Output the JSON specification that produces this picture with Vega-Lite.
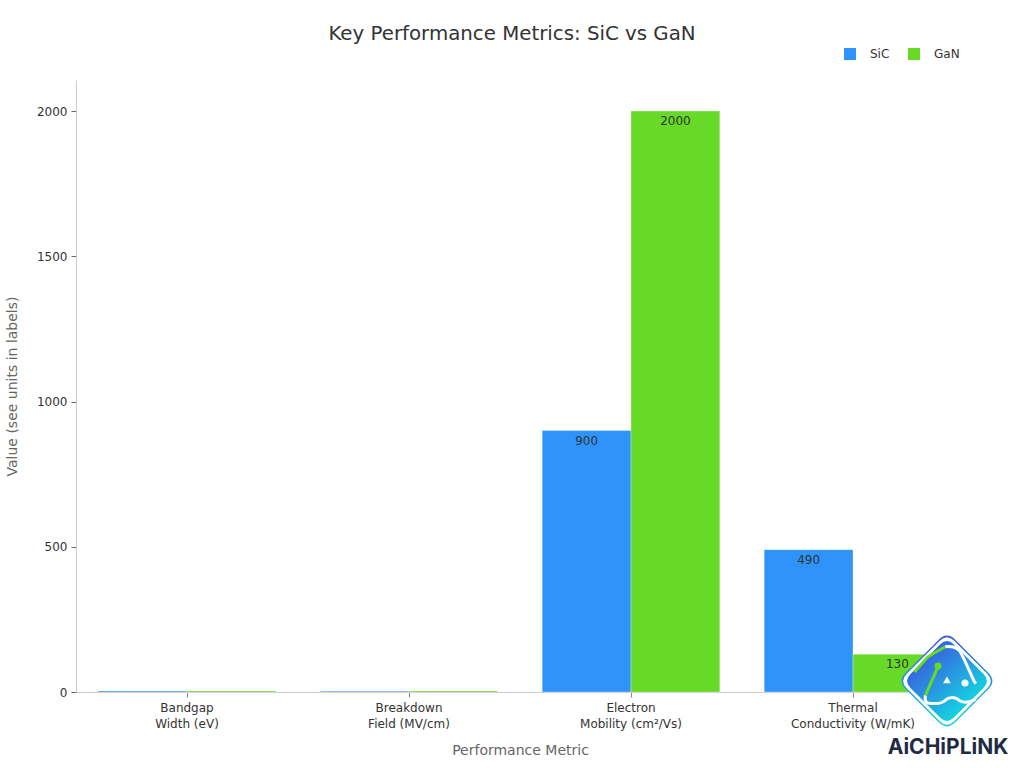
{
  "$schema": "https://vega.github.io/schema/vega-lite/v6.json",
  "autosize": {"type": "none"},
  "padding": {"left": 76, "top": 80, "right": 60, "bottom": 76},
  "width": 888,
  "height": 612,
  "background": "white",
  "title": {
    "text": "Key Performance Metrics: SiC vs GaN",
    "font": "DejaVu Sans",
    "fontSize": 19.8,
    "fontWeight": "normal",
    "color": "#333333",
    "anchor": "middle",
    "dx": -8,
    "offset": 4
  },
  "datasets": {
    "metrics": [
      {"metric": "Bandgap\nWidth (eV)", "series": "SiC", "value": 3.3},
      {"metric": "Bandgap\nWidth (eV)", "series": "GaN", "value": 3.4},
      {"metric": "Breakdown\nField (MV/cm)", "series": "SiC", "value": 3},
      {"metric": "Breakdown\nField (MV/cm)", "series": "GaN", "value": 3.3},
      {"metric": "Electron\nMobility (cm²/Vs)", "series": "SiC", "value": 900},
      {"metric": "Electron\nMobility (cm²/Vs)", "series": "GaN", "value": 2000},
      {"metric": "Thermal\nConductivity (W/mK)", "series": "SiC", "value": 490},
      {"metric": "Thermal\nConductivity (W/mK)", "series": "GaN", "value": 130}
    ],
    "logo": [
      {"metric": "Thermal\nConductivity (W/mK)", "brand": "AiCHiPLiNK"}
    ]
  },
  "encoding": {
    "x": {
      "field": "metric",
      "type": "nominal",
      "sort": null,
      "scale": {"paddingInner": 0.2, "paddingOuter": 0.1},
      "axis": {
        "title": "Performance Metric",
        "titleFont": "DejaVu Sans",
        "titleFontSize": 14,
        "titleFontWeight": "normal",
        "titleColor": "#666666",
        "titlePadding": 14,
        "labelFont": "DejaVu Sans",
        "labelFontSize": 12,
        "labelColor": "#333333",
        "labelAngle": 0,
        "labelPadding": 5,
        "labelLineHeight": 16,
        "labelExpr": "split(datum.label, '\\n')",
        "domainColor": "#cccccc",
        "tickColor": "#888888",
        "tickSize": 5
      }
    }
  },
  "layer": [
    {
      "data": {"name": "metrics"},
      "mark": {"type": "bar", "stroke": "white", "strokeWidth": 0.5, "strokeOpacity": 0.6},
      "encoding": {
        "xOffset": {
          "field": "series",
          "sort": ["SiC", "GaN"],
          "scale": {"paddingInner": 0, "paddingOuter": 0}
        },
        "y": {
          "field": "value",
          "type": "quantitative",
          "scale": {"domain": [0, 2107], "nice": false},
          "axis": {
            "title": "Value (see units in labels)",
            "titleFont": "DejaVu Sans",
            "titleFontSize": 14,
            "titleFontWeight": "normal",
            "titleColor": "#666666",
            "titlePadding": 17,
            "labelFont": "DejaVu Sans",
            "labelFontSize": 12,
            "labelColor": "#333333",
            "labelPadding": 4,
            "format": "d",
            "values": [0, 500, 1000, 1500, 2000],
            "grid": false,
            "domainColor": "#cccccc",
            "tickColor": "#666666",
            "tickSize": 5
          }
        },
        "color": {
          "field": "series",
          "type": "nominal",
          "sort": ["SiC", "GaN"],
          "scale": {"domain": ["SiC", "GaN"], "range": ["#2E93FA", "#66DA26"]},
          "legend": {
            "title": null,
            "orient": "none",
            "direction": "horizontal",
            "legendX": 768,
            "legendY": -32,
            "symbolType": "square",
            "symbolSize": 144,
            "symbolStrokeWidth": 0,
            "labelFont": "DejaVu Sans",
            "labelFontSize": 12,
            "labelColor": "#333333",
            "labelOffset": 14,
            "columnPadding": 18
          }
        }
      }
    },
    {
      "data": {"name": "metrics"},
      "transform": [{"filter": "datum.value > 100"}],
      "mark": {
        "type": "text",
        "font": "DejaVu Sans",
        "fontSize": 12,
        "color": "#333333",
        "baseline": "middle",
        "dy": 10
      },
      "encoding": {
        "xOffset": {"field": "series", "sort": ["SiC", "GaN"]},
        "y": {"field": "value", "type": "quantitative"},
        "text": {"field": "value", "type": "quantitative"}
      }
    },
    {
      "data": {"name": "logo"},
      "mark": {
        "type": "point",
        "xOffset": 94,
        "shape": "M -0.42 -0.08 L -0.08 -0.42 Q 0 -0.5 0.08 -0.42 L 0.42 -0.08 Q 0.5 0 0.42 0.08 L 0.08 0.42 Q 0 0.5 -0.08 0.42 L -0.42 0.08 Q -0.5 0 -0.42 -0.08 Z",
        "size": 37636,
        "filled": false,
        "fill": "white",
        "fillOpacity": 1,
        "opacity": 1,
        "strokeWidth": 1.5,
        "stroke": {
          "gradient": "linear",
          "x1": 0, "y1": 0, "x2": 0, "y2": 1,
          "stops": [{"offset": 0, "color": "#3a5bd9"}, {"offset": 1, "color": "#19d3e0"}]
        }
      },
      "encoding": {"y": {"datum": 38}}
    },
    {
      "data": {"name": "logo"},
      "mark": {
        "type": "point",
        "xOffset": 94,
        "shape": "M -0.42 -0.08 L -0.08 -0.42 Q 0 -0.5 0.08 -0.42 L 0.42 -0.08 Q 0.5 0 0.42 0.08 L 0.08 0.42 Q 0 0.5 -0.08 0.42 L -0.42 0.08 Q -0.5 0 -0.42 -0.08 Z",
        "size": 30276,
        "filled": true,
        "opacity": 1,
        "strokeWidth": 0,
        "fill": {
          "gradient": "linear",
          "x1": 0.1, "y1": 0.1, "x2": 0.8, "y2": 0.9,
          "stops": [{"offset": 0, "color": "#3d4fe0"}, {"offset": 1, "color": "#10dfe0"}]
        }
      },
      "encoding": {"y": {"datum": 38}}
    },
    {
      "data": {"name": "logo"},
      "mark": {
        "type": "point",
        "xOffset": 94,
        "shape": "M -0.02 -0.38 Q 0.12 -0.4 0.16 -0.3 L 0.2 -0.22 L 0.3 0 L 0.32 0.03",
        "size": 32400,
        "filled": false,
        "opacity": 1,
        "fillOpacity": 0,
        "strokeWidth": 3,
        "stroke": "white"
      },
      "encoding": {"y": {"datum": 38}}
    },
    {
      "data": {"name": "logo"},
      "mark": {
        "type": "point",
        "xOffset": 94,
        "shape": "M -0.24 0.16 Q -0.26 0.26 -0.16 0.25 Q -0.06 0.26 0 0.2 Q 0.08 0.16 0.14 0.22 Q 0.22 0.26 0.32 0.2",
        "size": 32400,
        "filled": false,
        "opacity": 1,
        "fillOpacity": 0,
        "strokeWidth": 3,
        "stroke": "white"
      },
      "encoding": {"y": {"datum": 38}}
    },
    {
      "data": {"name": "logo"},
      "mark": {
        "type": "point",
        "xOffset": 94,
        "shape": "M -0.36 -0.1 L -0.22 -0.26 L -0.16 -0.3 L -0.02 -0.38",
        "size": 32400,
        "filled": false,
        "opacity": 1,
        "fillOpacity": 0,
        "strokeWidth": 3,
        "stroke": "#66DA26"
      },
      "encoding": {"y": {"datum": 38}}
    },
    {
      "data": {"name": "logo"},
      "mark": {
        "type": "point",
        "xOffset": 94,
        "shape": "M -0.1 -0.16 L -0.24 0.16",
        "size": 32400,
        "filled": false,
        "opacity": 1,
        "fillOpacity": 0,
        "strokeWidth": 3,
        "stroke": "#66DA26"
      },
      "encoding": {"y": {"datum": 38}}
    },
    {
      "data": {"name": "logo"},
      "mark": {
        "type": "point",
        "xOffset": 85,
        "yOffset": -15,
        "shape": "circle",
        "size": 50,
        "filled": true,
        "opacity": 1,
        "strokeWidth": 0,
        "fill": "#66DA26"
      },
      "encoding": {"y": {"datum": 38}}
    },
    {
      "data": {"name": "logo"},
      "mark": {
        "type": "point",
        "xOffset": 112,
        "yOffset": 2,
        "shape": "circle",
        "size": 50,
        "filled": true,
        "opacity": 1,
        "strokeWidth": 0,
        "fill": "white"
      },
      "encoding": {"y": {"datum": 38}}
    },
    {
      "data": {"name": "logo"},
      "mark": {
        "type": "point",
        "xOffset": 94,
        "yOffset": -1,
        "shape": "triangle-up",
        "size": 60,
        "filled": true,
        "opacity": 1,
        "strokeWidth": 0,
        "fill": "white"
      },
      "encoding": {"y": {"datum": 38}}
    },
    {
      "data": {"name": "logo"},
      "mark": {
        "type": "text",
        "font": "Inter",
        "fontSize": 21,
        "fontWeight": "bold",
        "color": "#1f2a44",
        "align": "center",
        "baseline": "middle",
        "xOffset": 95,
        "yOffset": 67
      },
      "encoding": {"y": {"datum": 38}, "text": {"field": "brand"}}
    }
  ],
  "config": {"view": {"stroke": null}}
}
